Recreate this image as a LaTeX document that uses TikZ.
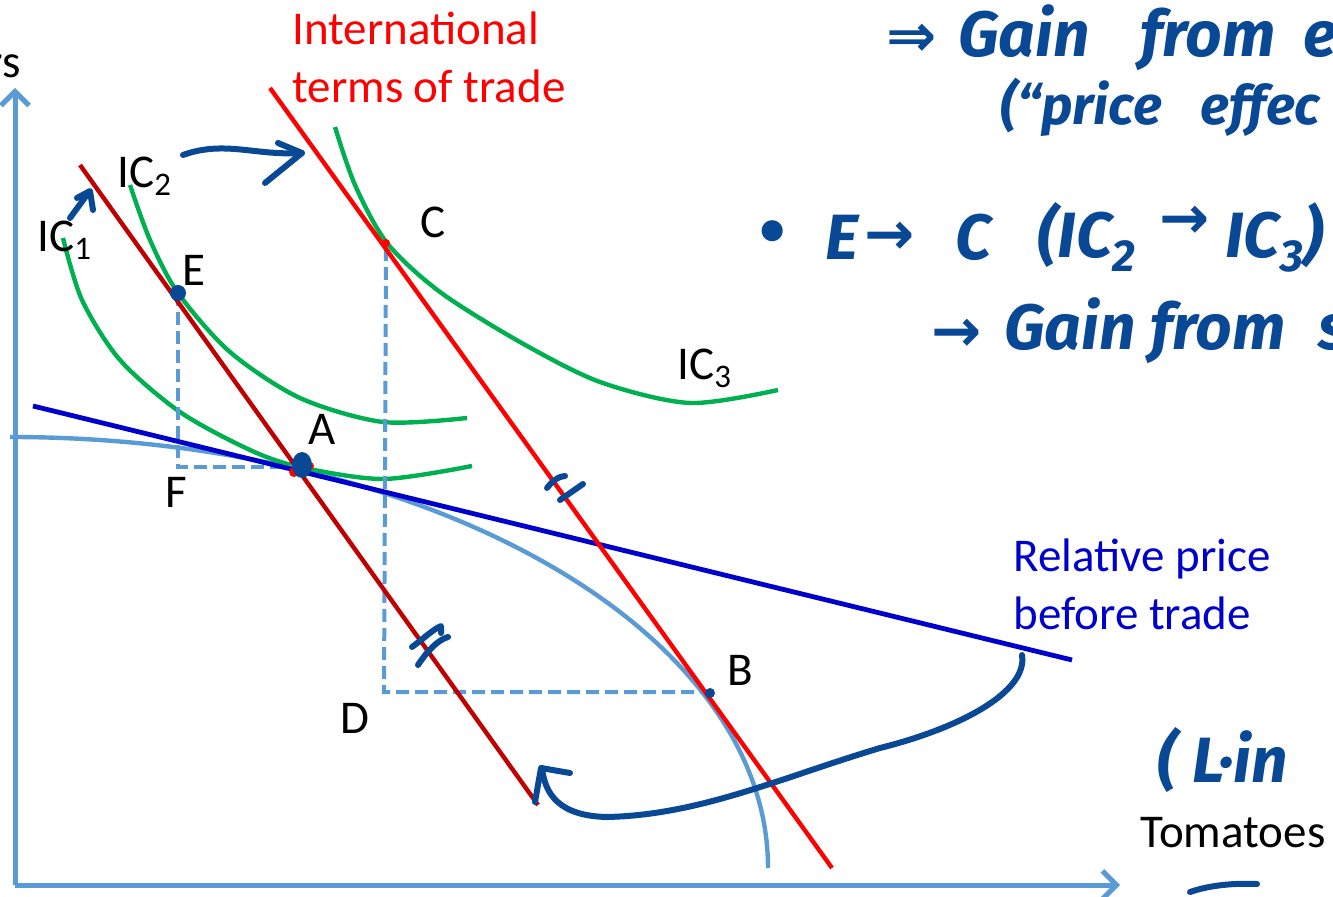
\documentclass[tikz,border=0pt]{standalone}
\usepackage{fontspec}
\setmainfont{Carlito}
\newfontfamily\handfont{Fira Sans}
\newfontfamily\symfont{DejaVu Sans}
\usetikzlibrary{arrows.meta}
\definecolor{axisblue}{RGB}{91,155,213}
\definecolor{priceblue}{RGB}{0,0,204}
\definecolor{homered}{RGB}{192,0,0}
\definecolor{tradered}{RGB}{255,0,0}
\definecolor{icgreen}{RGB}{0,176,80}
\definecolor{ink}{RGB}{8,72,148}
\tikzset{
  axisline/.style={draw=axisblue, line width=2.5pt, -{Straight Barb[length=7pt,width=14pt]}},
  ppfline/.style={draw=axisblue, line width=2.2pt},
  priceline/.style={draw=priceblue, line width=2.4pt},
  homeline/.style={draw=homered, line width=2.2pt},
  tradeline/.style={draw=tradered, line width=2.2pt},
  icurve/.style={draw=icgreen, line width=2.2pt},
  guide/.style={draw=axisblue, line width=2pt, dash pattern=on 6.5pt off 3pt},
  inkline/.style={draw=ink, line width=3pt, line cap=round, line join=round},
  lbl/.style={inner sep=0pt, anchor=base west, font=\fontsize{23.5}{28}\selectfont},
  redlbl/.style={lbl, text=tradered, align=left, font=\fontsize{23.5}{29}\selectfont},
  bluelbl/.style={lbl, text=priceblue, align=left, font=\fontsize{23.5}{29}\selectfont},
  handtxt/.style={inner sep=0pt, anchor=base west, text=ink, font=\handfont\bfseries\itshape\fontsize{32}{36}\selectfont},
  handsmall/.style={handtxt, font=\handfont\bfseries\itshape\fontsize{27}{32}\selectfont},
  handsym/.style={inner sep=0pt, text=ink, font=\symfont\bfseries\fontsize{30}{34}\selectfont},
}
\begin{document}
\begin{tikzpicture}[x=0.5pt,y=-0.5pt]
\useasboundingbox (0,0) rectangle (1333,897);
% axes
\coordinate (org) at (15,885);
\coordinate (ytop) at (15,88);
\coordinate (xend) at (1120,885);
\draw[axisline] (org) -- (ytop);
\draw[axisline] (org) -- (xend);
\node[lbl, anchor=base east] (ylab) at (21,78) {rs};
\node[lbl] (xlab) at (1140,847) {Tomatoes};
% PPF
\draw[ppfline] (768,868) arc[start angle=0, end angle=-90, x radius=758, y radius=431];
% indifference curves
\draw[icurve] plot[smooth] coordinates {(63,238) (82,300) (120,360) (180,412) (250,450) (300,467) (383,479) (472,466)};
\draw[icurve] plot[smooth] coordinates {(130,185) (150,240) (178,293) (230,352) (300,398) (383,422) (467,418)};
\draw[icurve] plot[smooth] coordinates {(335,127) (355,185) (387,243) (440,292) (520,342) (600,382) (690,403) (778,390)};
% guide lines
\coordinate (E) at (178,293);
\coordinate (F) at (178,467);
\coordinate (A) at (301,467);
\coordinate (C) at (386,243);
\coordinate (D) at (384,692);
\coordinate (B) at (708,692);
\draw[guide] (E) -- (F) -- (A);
\draw[guide] (C |- 0,248) -- (D) -- (B);
% price lines
\coordinate (p1) at (33,406); \coordinate (p2) at (1072,660);
\draw[priceline] (p1) -- (p2);
\coordinate (h1) at (80,165); \coordinate (h2) at (538,805);
\draw[homeline] (h1) -- (h2);
\coordinate (t1) at (270,88); \coordinate (t2) at (832,868);
\draw[tradeline] (t1) -- (t2);
% points
\fill[ink] (E) circle[radius=8];
\fill[tradered] (294,472) circle[radius=5];
\fill[tradered] (310,466) circle[radius=4];
\fill[ink] (302,465) ellipse[x radius=10, y radius=13];
\fill[tradered] (C) circle[radius=4];
\fill[ink] (710,693) circle[radius=5];
% labels
\node[lbl] (lE) at (182,286) {E};
\node[lbl] (lA) at (308,445) {A};
\node[lbl] (lC) at (420,238) {C};
\node[lbl] (lF) at (165,508) {F};
\node[lbl] (lD) at (340,733) {D};
\node[lbl] (lB) at (727,685) {B};
\node[lbl] (ic1) at (37,252) {IC\textsubscript{1}};
\node[lbl] (ic2) at (117,188) {IC\textsubscript{2}};
\node[lbl] (ic3) at (677,380) {IC\textsubscript{3}};
\node[redlbl] (tot) at (292,103) {International\\terms of trade};
\node[bluelbl] (rp) at (1013,630) {Relative price\\before trade};
% hand-drawn arrows
\draw[inkline] (70,218) -- (89,192);
\draw[inkline] (77,198) -- (90,191) -- (93,210);
\draw[inkline] (183,155) .. controls (225,140) and (255,156) .. (302,153);
\draw[inkline] (278,143) -- (302,153) -- (265,183);
\draw[inkline] (1022,655) .. controls (1028,692) and (960,728) .. (880,748)
  .. controls (780,778) and (700,815) .. (607,817)
  .. controls (560,816) and (545,795) .. (542,768);
\draw[inkline] (535,802) -- (541,768) -- (570,773);
% tick marks
\draw[inkline] (547,488) .. controls (553,480) and (560,476) .. (565,476);
\draw[inkline] (560,500) -- (583,484);
\draw[inkline] (412,647) .. controls (422,640) and (432,630) .. (441,626) -- (441,633);
\draw[inkline] (418,665) .. controls (428,650) and (438,640) .. (448,637);
\draw[inkline] (1190,892) .. controls (1210,885) and (1235,883) .. (1257,884);
% handwritten notes
\node[handsym] (n1a) at (912,40) {⇒};
\node[handtxt] (n1b) at (958,57) {Gain};
\node[handtxt] (n1c) at (1140,57) {from};
\node[handtxt] (n1d) at (1303,57) {e};
\node[handsmall] (n2a) at (1000,125) {(“price};
\node[handsmall] (n2b) at (1200,125) {effec};
\node[handsym] (n3a) at (773,237) {•};
\node[handtxt] (n3b) at (825,260) {E};
\node[handsym] (n3c) at (890,238) {→};
\node[handtxt] (n3d) at (955,260) {C};
\node[handtxt] (n3e) at (1037,258) {(IC\textsubscript{2}};
\node[handsym] (n3f) at (1185,222) {→};
\node[handtxt] (n3g) at (1225,258) {IC\textsubscript{3})};
\node[handsym] (n4a) at (957,335) {→};
\node[handtxt] (n4b) at (1004,350) {Gain};
\node[handtxt] (n4c) at (1150,350) {from};
\node[handtxt] (n4d) at (1318,350) {s};
\node[handtxt] (n5) at (1157,782) {( L·in};
\end{tikzpicture}
\end{document}
